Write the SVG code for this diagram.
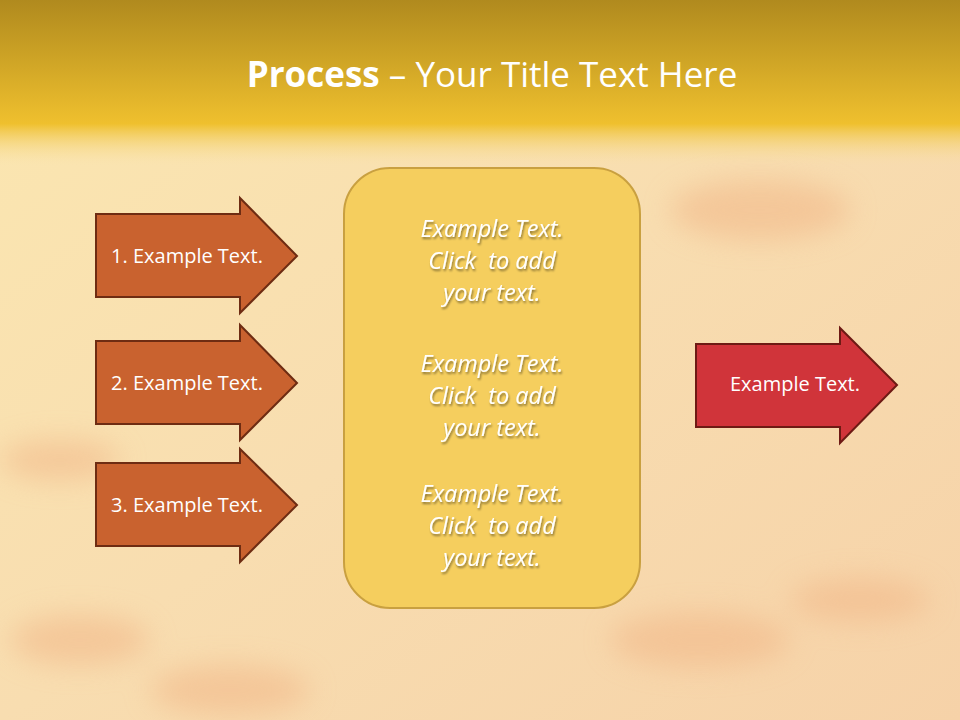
<svg xmlns="http://www.w3.org/2000/svg" width="960" height="720" viewBox="0 0 960 720">
<defs>
<linearGradient id="top" x1="0" y1="0" x2="0" y2="1"><stop offset="0" stop-color="#B08A1E"/><stop offset="0.75" stop-color="#EFC02E"/><stop offset="1" stop-color="#F8E0A0" stop-opacity="0"/></linearGradient>
<linearGradient id="bg" x1="0" y1="0" x2="1" y2="1"><stop offset="0" stop-color="#FBE7B0"/><stop offset="0.5" stop-color="#F8DDB0"/><stop offset="1" stop-color="#F6D2A8"/></linearGradient>
<filter id="sh"><feDropShadow dx="1" dy="2" stdDeviation="1.2" flood-color="#000" flood-opacity="0.45"/></filter>
<filter id="blur"><feGaussianBlur stdDeviation="14"/></filter>
<style>
.la{fill:#C9622F;stroke:#6E2C12;stroke-width:2}
.ra{fill:#D0343A;stroke:#6E1A14;stroke-width:2}
.t{font-family:"Open Sans","Liberation Sans",sans-serif;fill:#fff;font-size:20px;text-anchor:middle}
.c{font-family:"Open Sans","Liberation Sans",sans-serif;fill:#fff;font-size:23.5px;font-style:italic;text-anchor:middle;filter:url(#sh)}
</style>
</defs>
<rect width="960" height="720" fill="url(#bg)"/>
<g filter="url(#blur)" fill="#F2B98A" opacity="0.6">
<ellipse cx="80" cy="640" rx="70" ry="25"/><ellipse cx="230" cy="690" rx="80" ry="25"/><ellipse cx="700" cy="640" rx="90" ry="28"/><ellipse cx="60" cy="460" rx="60" ry="20"/><ellipse cx="860" cy="600" rx="70" ry="22"/><ellipse cx="760" cy="210" rx="90" ry="30"/>
</g>
<rect width="960" height="165" fill="url(#top)"/>
<text x="492" y="87" font-family="Open Sans,Liberation Sans,sans-serif" font-size="35" fill="#fff" text-anchor="middle"><tspan font-weight="bold">Process</tspan> – Your Title Text Here</text>
<g id="step1"><path class="la" d="M96 214H240V198L297 256L240 313V297H96Z"/><text class="t" x="187" y="263">1. Example Text.</text></g>
<g id="step2"><path class="la" d="M96 341H240V325L297 383L240 440V424H96Z"/><text class="t" x="187" y="390">2. Example Text.</text></g>
<g id="step3"><path class="la" d="M96 463H240V449L297 505L240 562V546H96Z"/><text class="t" x="187" y="512">3. Example Text.</text></g>
<g id="center"><rect x="344" y="168" width="296" height="440" rx="46" fill="#F5CE5E" stroke="#C9A040" stroke-width="2"/>
<text class="c" xml:space="preserve"><tspan x="492" y="237">Example Text.</tspan><tspan x="492" y="269">Click  to add</tspan><tspan x="492" y="301">your text.</tspan></text>
<text class="c" xml:space="preserve"><tspan x="492" y="372">Example Text.</tspan><tspan x="492" y="404">Click  to add</tspan><tspan x="492" y="436">your text.</tspan></text>
<text class="c" xml:space="preserve"><tspan x="492" y="502">Example Text.</tspan><tspan x="492" y="534">Click  to add</tspan><tspan x="492" y="566">your text.</tspan></text></g>
<g id="result"><path class="ra" d="M696 344H840V328L897 385L840 443V427H696Z"/><text class="t" x="795" y="391">Example Text.</text></g>
<g id="connectors"/>
</svg>
